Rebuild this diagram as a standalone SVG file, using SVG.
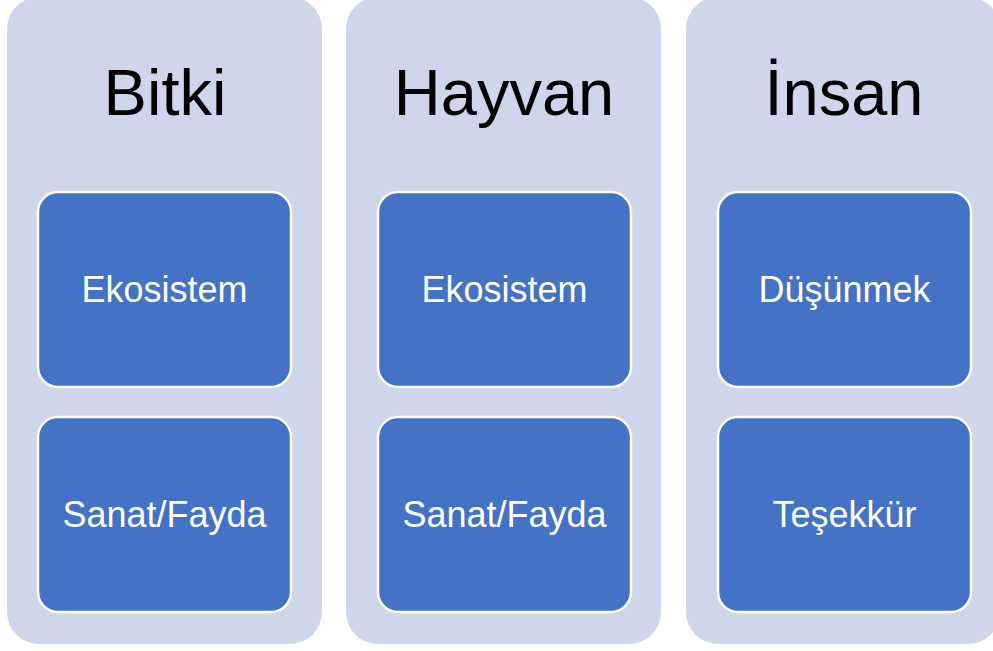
<svg xmlns="http://www.w3.org/2000/svg" width="993" height="651" viewBox="0 0 993 651">
<style>
.col{fill:#CFD5EA;}
.box{fill:#4472C4;stroke:#FFFFFF;stroke-width:2.5;}
.title{font-family:"Liberation Sans",Arial,sans-serif;font-size:65px;fill:#000;text-anchor:middle;}
.lbl{font-family:"Liberation Sans",Arial,sans-serif;font-size:36px;fill:#FFFFFF;text-anchor:middle;}
</style>
<rect width="993" height="651" fill="#FFFFFF"/>
<g id="col-bitki">
<rect class="col" x="7" y="-3" width="315" height="647" rx="32"/>
<text class="title" x="165" y="115">Bitki</text>
</g>
<g id="col-hayvan">
<rect class="col" x="346" y="-3" width="315" height="647" rx="32"/>
<text class="title" x="504" y="115">Hayvan</text>
</g>
<g id="col-insan">
<rect class="col" x="686" y="-3" width="314" height="647" rx="32"/>
<text class="title" x="844" y="115">İnsan</text>
</g>
<g id="bitki-ekosistem">
<rect class="box" x="38" y="192" width="253" height="195" rx="20"/>
<text class="lbl" x="164.5" y="302">Ekosistem</text>
</g>
<g id="bitki-sanat">
<rect class="box" x="38" y="417" width="253" height="195" rx="20"/>
<text class="lbl" x="164.5" y="527">Sanat/Fayda</text>
</g>
<g id="hayvan-ekosistem">
<rect class="box" x="378" y="192" width="253" height="195" rx="20"/>
<text class="lbl" x="504.5" y="302">Ekosistem</text>
</g>
<g id="hayvan-sanat">
<rect class="box" x="378" y="417" width="253" height="195" rx="20"/>
<text class="lbl" x="504.5" y="527">Sanat/Fayda</text>
</g>
<g id="insan-dusunmek">
<rect class="box" x="718" y="192" width="253" height="195" rx="20"/>
<text class="lbl" x="844.5" y="302">Düşünmek</text>
</g>
<g id="insan-tesekkur">
<rect class="box" x="718" y="417" width="253" height="195" rx="20"/>
<text class="lbl" x="844.5" y="527">Teşekkür</text>
</g>
<g id="connectors"></g>
</svg>
